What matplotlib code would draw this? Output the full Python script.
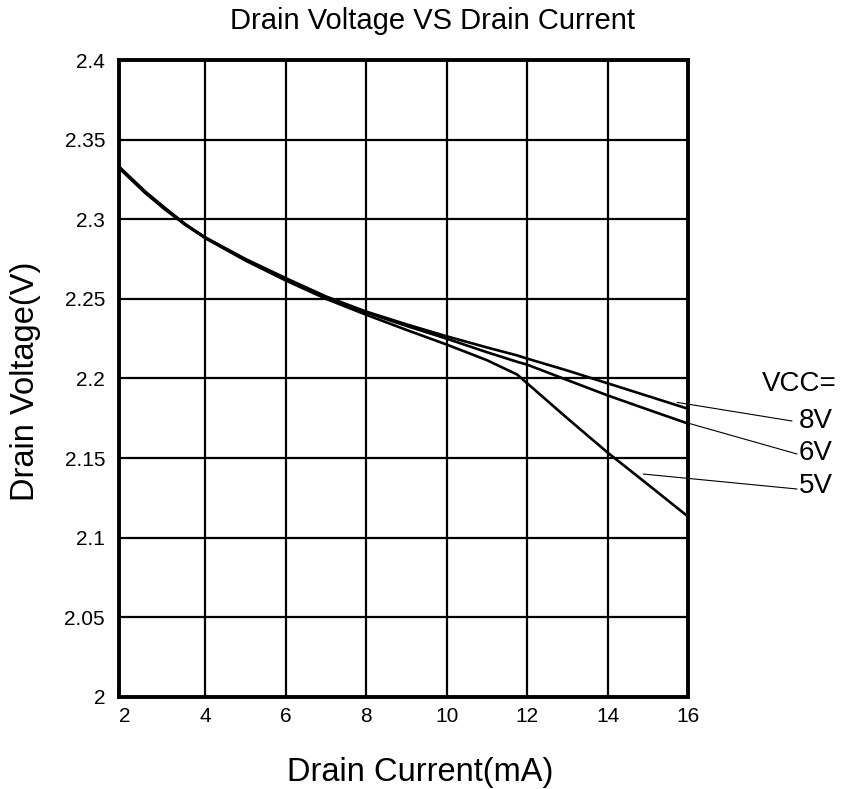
import numpy as np
import matplotlib.pyplot as plt

plt.rcParams['font.family'] = ['Liberation Sans', 'DejaVu Sans']

# drain current (mA)
current = [1.85, 2, 2.5, 3, 3.5, 4, 5, 6, 7, 8, 9, 10, 11, 11.75, 12, 13, 14, 15, 16]
# drain voltage (V) for each VCC
v_8v = [2.332, 2.3285, 2.3165, 2.306, 2.2965, 2.2885, 2.275, 2.263, 2.2515, 2.242,
        2.234, 2.2265, 2.2195, 2.2145, 2.2125, 2.205, 2.197, 2.189, 2.181]
v_6v = [2.333, 2.3295, 2.3175, 2.307, 2.297, 2.2885, 2.2745, 2.262, 2.251, 2.2415,
        2.233, 2.225, 2.2165, 2.2105, 2.2087, 2.199, 2.1894, 2.1805, 2.1717]
v_5v = [2.333, 2.329, 2.317, 2.3065, 2.2965, 2.288, 2.274, 2.2615, 2.250, 2.240,
        2.2305, 2.2213, 2.2115, 2.2025, 2.197, 2.175, 2.1535, 2.1335, 2.1133]

x_ticks = [2, 4, 6, 8, 10, 12, 14, 16]
y_ticks = [2.0, 2.05, 2.1, 2.15, 2.2, 2.25, 2.3, 2.35, 2.4]
y_tick_labels = ['2', '2.05', '2.1', '2.15', '2.2', '2.25', '2.3', '2.35', '2.4']

vcc_labels = ['8V', '6V', '5V']
# where each leader line touches the curve (data coords)
leader_from = [(15.73, 2.185), (16.0, 2.172), (14.89, 2.140)]

W, H = 842, 789
fig = plt.figure(figsize=(W / 100, H / 100), dpi=100)
ax = fig.add_axes([119 / W, 1 - 697 / H, (688 - 119) / W, (697 - 60) / H])

for v in (v_8v, v_6v, v_5v):
    ax.plot(current, v, color='black', lw=1.9, solid_joinstyle='round')

ax.set_xlim(1.85, 16)
ax.set_ylim(2.0, 2.4)
ax.set_xticks(x_ticks)
ax.set_yticks(y_ticks)
ax.set_yticklabels(y_tick_labels)
ax.tick_params(length=0, labelsize=15, pad=7)
ax.tick_params(axis='y', pad=10)

# grid (no line at x=2, it sits next to the left spine)
for yt in y_ticks[1:-1]:
    ax.axhline(yt, color='black', lw=1.6, zorder=1)
for xt in x_ticks[1:-1]:
    ax.axvline(xt, color='black', lw=1.6, zorder=1)

for s in ax.spines.values():
    s.set_linewidth(2.8)

fig.text(432 / W, 1 - 21 / H, 'Drain Voltage VS Drain Current',
         ha='center', va='center', fontsize=21)
fig.text(420 / W, 1 - 772 / H, 'Drain Current(mA)',
         ha='center', va='center', fontsize=23.5)
fig.text(26 / W, 1 - 381 / H, 'Drain Voltage(V)', rotation=90,
         ha='center', va='center', fontsize=23.5)

# VCC legend with leader lines
fig.text(762 / W, 1 - 384 / H, 'VCC=', ha='left', va='center', fontsize=20)
label_pos = [(799, 421), (799, 453), (799, 486)]
line_end = [(792, 421), (797, 454), (797, 489)]
for lab, (lx, ly), (ex, ey), p in zip(vcc_labels, label_pos, line_end, leader_from):
    ax.annotate('', xy=p, xycoords='data', xytext=(ex, H - ey),
                textcoords='figure pixels',
                arrowprops=dict(arrowstyle='-', lw=0.8, color='black',
                                shrinkA=0, shrinkB=0),
                annotation_clip=False)
    fig.text(lx / W, 1 - ly / H, lab, ha='left', va='center', fontsize=20)

fig.savefig('out.png', dpi=100)
